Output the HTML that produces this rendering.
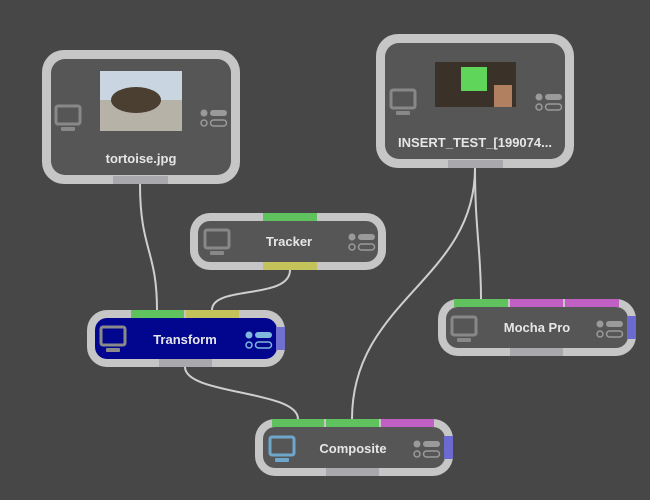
<!DOCTYPE html>
<html><head><style>
html,body{margin:0;padding:0;background:#474747;}
svg{display:block;}
text{font-family:"Liberation Sans",sans-serif;font-weight:bold;fill:#e6e6e6;font-size:13px;}
</style></head><body>
<svg width="650" height="500" viewBox="0 0 650 500" xmlns="http://www.w3.org/2000/svg">
<rect width="650" height="500" fill="#474747"/>
<defs>
<g id="mon"><rect x="0" y="0" width="24" height="18" rx="2" fill="none" stroke="currentColor" stroke-width="3"/><rect x="5" y="21" width="14" height="4" rx="1" fill="currentColor"/></g>
<g id="opt"><circle cx="4" cy="4" r="3.5" fill="currentColor"/><rect x="10" y="1" width="17" height="6" rx="3" fill="currentColor"/><circle cx="4" cy="14" r="3" fill="none" stroke="currentColor" stroke-width="1.5"/><rect x="10.5" y="11" width="16" height="6" rx="3" fill="none" stroke="currentColor" stroke-width="1.5"/></g>
</defs>
<!-- connectors -->
<g fill="none" stroke="#cfcfcf" stroke-width="2">
<path d="M140 184 C140 250 157 250 157 310"/>
<path d="M290 270 C290 300 212 285 212 310"/>
<path d="M185 367 C185 395 298 390 298 419"/>
<path d="M475 168 C475 280 352 300 352 419"/>
<path d="M475 168 C475 230 481 250 481 299"/>
</g>
<!-- tortoise -->
<rect x="42" y="50" width="198" height="134" rx="22" fill="#c6c6c6"/>
<rect x="51" y="59" width="180" height="116" rx="14" fill="#565656"/>
<rect x="113" y="176" width="55" height="8" fill="#a8a8ad"/>
<rect x="100" y="71" width="82" height="30" fill="#c9d6e2"/>
<rect x="100" y="100" width="82" height="31" fill="#b7b2a8"/>
<ellipse cx="136" cy="100" rx="25" ry="13" fill="#4a3f30"/>
<use href="#mon" x="56" y="106" color="#888"/>
<use href="#opt" x="200" y="109" color="#9a9a9a"/>
<text x="141" y="163" text-anchor="middle">tortoise.jpg</text>
<!-- insert -->
<rect x="376" y="34" width="198" height="134" rx="22" fill="#c6c6c6"/>
<rect x="385" y="43" width="180" height="116" rx="14" fill="#565656"/>
<rect x="448" y="160" width="55" height="8" fill="#a8a8ad"/>
<rect x="435" y="62" width="81" height="45" fill="#3a3128"/>
<rect x="461" y="67" width="26" height="24" fill="#5fd65a"/>
<rect x="494" y="85" width="18" height="22" fill="#b08060"/>
<use href="#mon" x="391" y="90" color="#888"/>
<use href="#opt" x="535" y="93" color="#9a9a9a"/>
<text x="475" y="147" text-anchor="middle">INSERT_TEST_[199074...</text>
<!-- tracker -->
<rect x="190" y="213" width="196" height="57" rx="20" fill="#c6c6c6"/>
<rect x="198" y="221" width="180" height="41" rx="12" fill="#565656"/>
<rect x="263" y="213" width="54" height="8" fill="#5fc25f"/>
<rect x="263" y="262" width="54" height="8" fill="#c4c25a"/>
<use href="#mon" x="205" y="230" color="#888"/>
<use href="#opt" x="348" y="233" color="#9a9a9a"/>
<text x="289" y="246" text-anchor="middle">Tracker</text>
<!-- transform -->
<rect x="87" y="310" width="198" height="57" rx="20" fill="#c6c6c6"/>
<rect x="95" y="318" width="182" height="41" rx="12" fill="#02068f"/>
<rect x="131" y="310" width="53" height="8" fill="#5fc25f"/>
<rect x="186" y="310" width="53" height="8" fill="#c4c25a"/>
<rect x="159" y="359" width="53" height="8" fill="#a8a8ad"/>
<rect x="276" y="327" width="9" height="23" fill="#7070d0"/>
<use href="#mon" x="101" y="327" color="#8a8a8a"/>
<use href="#opt" x="245" y="331" color="#7fb8dc"/>
<text x="185" y="344" text-anchor="middle">Transform</text>
<!-- mocha -->
<rect x="438" y="299" width="198" height="57" rx="20" fill="#c6c6c6"/>
<rect x="446" y="307" width="182" height="41" rx="12" fill="#565656"/>
<rect x="454" y="299" width="54" height="8" fill="#5fc25f"/>
<rect x="510" y="299" width="53" height="8" fill="#c060c4"/>
<rect x="565" y="299" width="54" height="8" fill="#c060c4"/>
<rect x="510" y="348" width="53" height="8" fill="#a8a8ad"/>
<rect x="627" y="316" width="9" height="23" fill="#6a6ad0"/>
<use href="#mon" x="452" y="317" color="#888"/>
<use href="#opt" x="596" y="320" color="#9a9a9a"/>
<text x="537" y="332" text-anchor="middle">Mocha Pro</text>
<!-- composite -->
<rect x="255" y="419" width="198" height="57" rx="20" fill="#c6c6c6"/>
<rect x="263" y="427" width="182" height="41" rx="12" fill="#565656"/>
<rect x="272" y="419" width="52" height="8" fill="#5fc25f"/>
<rect x="326" y="419" width="53" height="8" fill="#5fc25f"/>
<rect x="381" y="419" width="53" height="8" fill="#c060c4"/>
<rect x="326" y="468" width="53" height="8" fill="#a8a8ad"/>
<rect x="444" y="436" width="9" height="23" fill="#6a6ad0"/>
<use href="#mon" x="270" y="437" color="#6ea6cc"/>
<use href="#opt" x="413" y="440" color="#9a9a9a"/>
<text x="353" y="453" text-anchor="middle">Composite</text>
</svg>
</body></html>
